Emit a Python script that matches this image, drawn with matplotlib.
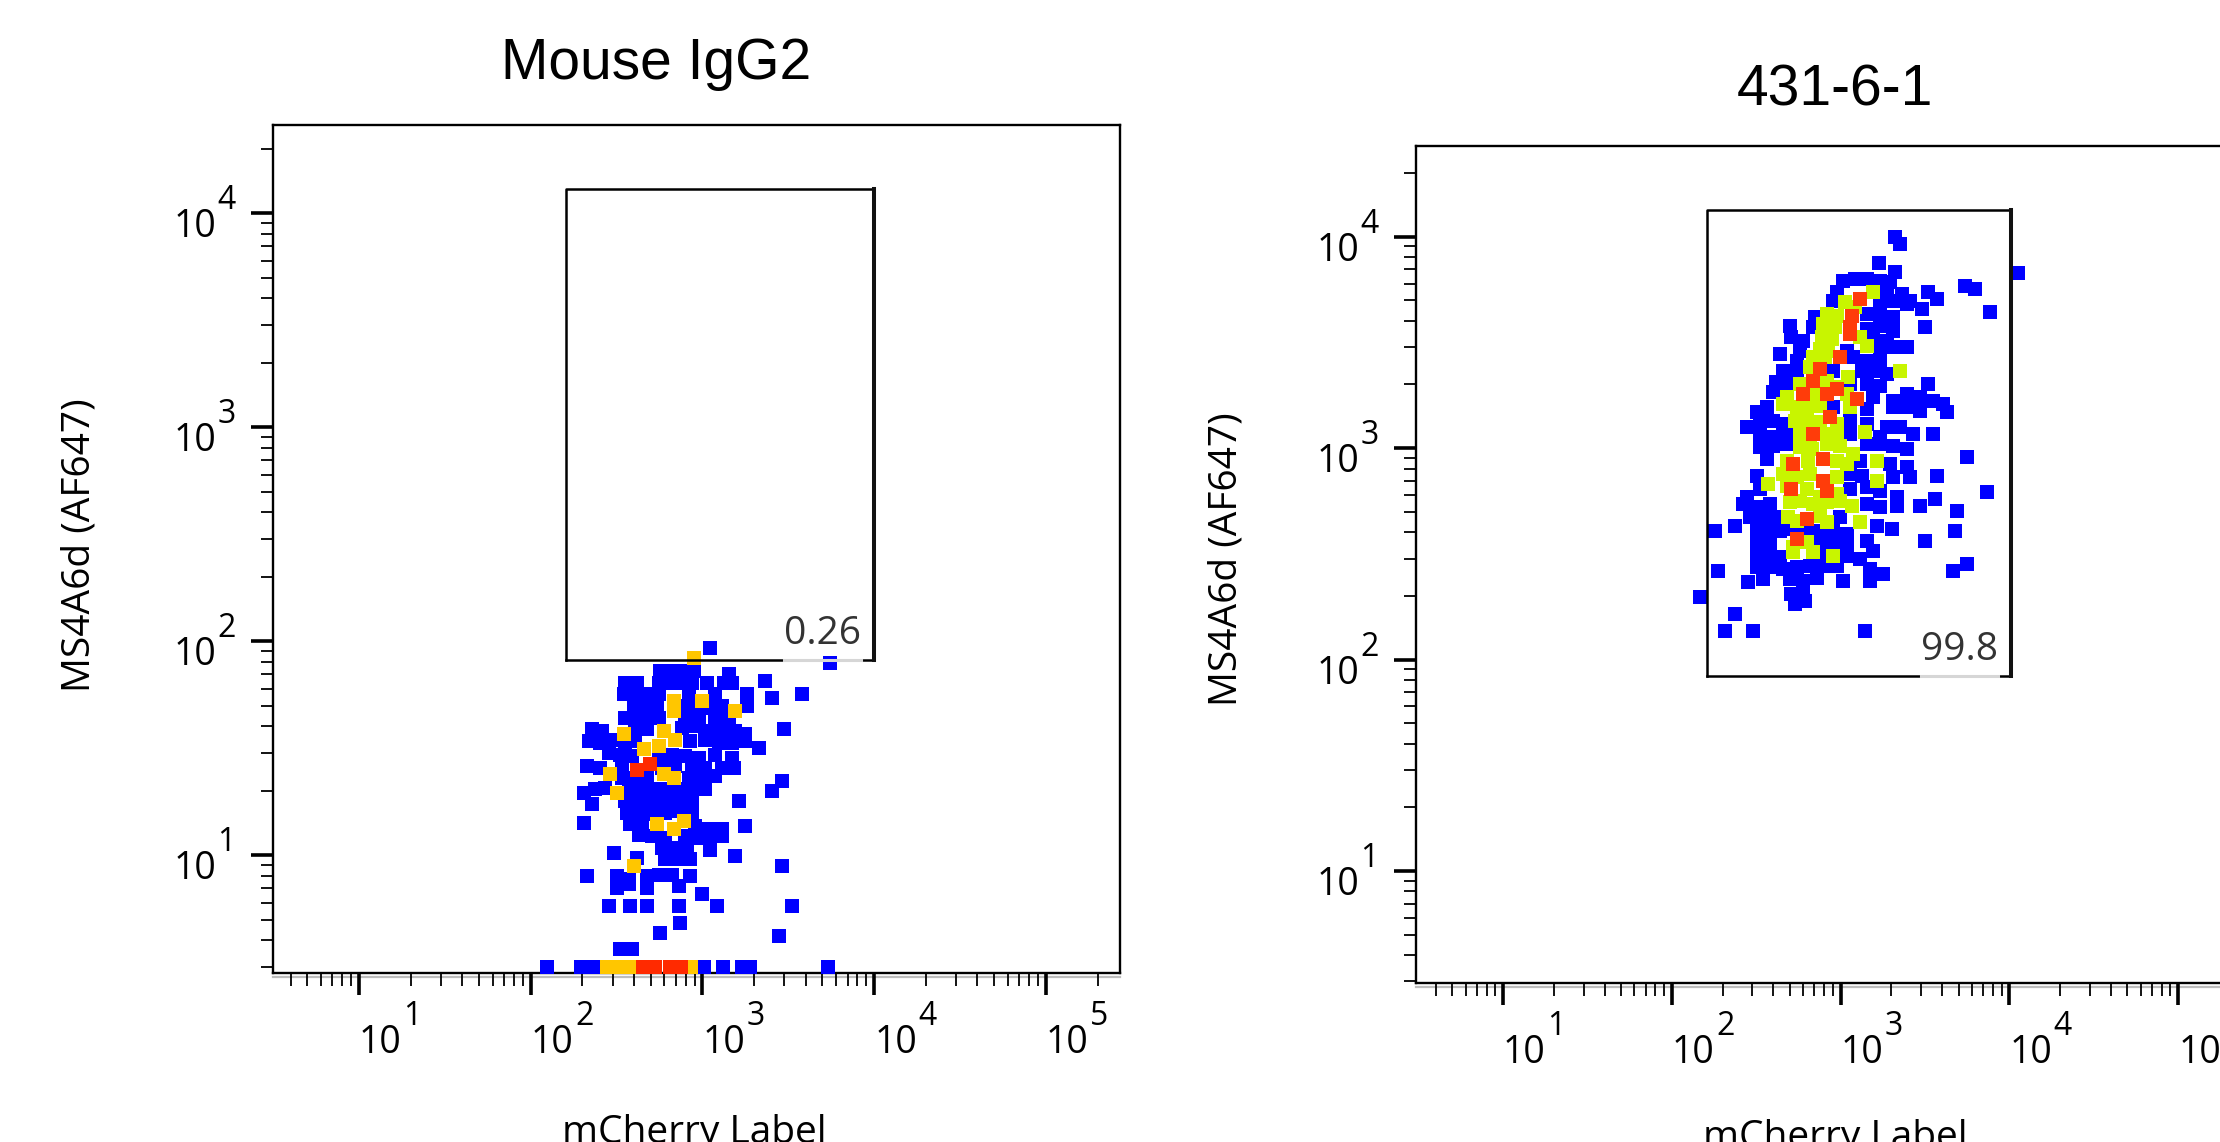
import numpy as np
import matplotlib
matplotlib.use("Agg")
import matplotlib.pyplot as plt
from matplotlib.ticker import LogLocator, NullFormatter
from matplotlib.transforms import blended_transform_factory
from matplotlib.lines import Line2D

plt.rcParams['font.family'] = ['Open Sans', 'DejaVu Sans']

# ---------------- data ----------------
titles = ["Mouse IgG2", "431-6-1"]
x_label = "mCherry Label"
y_label = "MS4A6d (AF647)"
gate_pcts = ["0.26", "99.8"]
x_tick_exps = [1, 2, 3, 4, 5]
y_tick_exps = [1, 2, 3, 4]

# gate bounds (log10 units)
igg_gate_x = [2.208, 4.0]
igg_gate_y = [1.914, 4.115]
ab_gate_x = [2.21, 4.01]
ab_gate_y = [1.92, 4.127]

# ---- Mouse IgG2 events (log10 mCherry, log10 MS4A6d) by density level ----
igg_blue_x = [3.046, 3.745, 3.366, 3.405, 3.580,
              2.755, 2.823, 2.891, 2.949, 3.153,
              2.551, 2.619, 2.745, 2.813, 2.881, 2.939, 3.027, 3.124, 3.172,
              2.541, 2.609, 2.687, 2.745, 2.920, 3.075, 3.260,
              2.600, 2.668, 2.736, 2.901, 2.959, 3.036, 3.114, 3.260,
              2.551, 2.619, 2.687, 2.745, 2.901, 2.978, 3.075, 3.153,
              2.357, 2.415, 2.609, 2.677, 2.881, 2.959, 3.036, 3.114, 3.192, 3.250, 3.473,
              2.338, 2.406, 2.474, 2.551, 2.609, 2.930, 3.017, 3.095, 3.172, 3.250, 3.328,
              2.454, 2.522, 2.590, 2.745, 2.823, 2.901, 2.978, 3.075, 3.172,
              2.328, 2.406, 2.532, 2.765, 2.842, 2.939, 3.017, 3.114, 3.182,
              2.532, 2.609, 2.677, 2.920, 2.998, 3.075, 3.463,
              2.309, 2.377, 2.435, 2.571, 2.639, 2.706, 2.784, 2.862, 2.939, 3.017, 3.405,
              2.357, 2.551, 2.629, 2.706, 2.784, 2.862, 2.939, 3.211,
              2.561, 2.639, 2.706, 2.784, 2.862, 2.939,
              2.309, 2.580, 2.648, 2.959, 3.036, 3.114, 3.250,
              2.629, 2.706, 2.784, 2.901, 2.959, 3.036, 3.114,
              2.483, 2.765, 2.833, 2.910, 3.046, 3.192,
              2.619, 2.784, 2.862, 2.930, 3.463,
              2.328, 2.503, 2.571, 2.677, 2.745, 2.823, 2.930,
              2.503, 2.571, 2.677, 2.862, 2.998,
              2.454, 2.580, 2.677, 2.862, 3.085, 3.522,
              2.871, 2.755, 3.444,
              2.522, 2.590,
              2.097, 2.291, 2.373, 3.008, 3.118, 3.229, 3.275, 3.730]
igg_blue_y = [1.969, 1.899, 1.813, 1.735, 1.751,
              1.860, 1.860, 1.860, 1.860, 1.845,
              1.805, 1.805, 1.805, 1.805, 1.805, 1.805, 1.805, 1.805, 1.805,
              1.751, 1.751, 1.751, 1.751, 1.751, 1.751, 1.751,
              1.696, 1.696, 1.696, 1.696, 1.688, 1.688, 1.696, 1.696,
              1.642, 1.642, 1.642, 1.642, 1.642, 1.642, 1.642, 1.642,
              1.587, 1.579, 1.595, 1.587, 1.595, 1.603, 1.579, 1.579, 1.579, 1.564, 1.587,
              1.533, 1.525, 1.540, 1.517, 1.533, 1.533, 1.540, 1.525, 1.525, 1.533, 1.501,
              1.478, 1.470, 1.462, 1.462, 1.470, 1.462, 1.455, 1.470, 1.455,
              1.416, 1.408, 1.424, 1.408, 1.416, 1.408, 1.408, 1.408, 1.408,
              1.361, 1.361, 1.361, 1.361, 1.361, 1.369, 1.346,
              1.291, 1.307, 1.314, 1.314, 1.307, 1.307, 1.307, 1.307, 1.307, 1.307, 1.299,
              1.237, 1.252, 1.252, 1.244, 1.244, 1.252, 1.252, 1.252,
              1.198, 1.198, 1.190, 1.198, 1.205, 1.198,
              1.151, 1.143, 1.135, 1.135, 1.120, 1.120, 1.135,
              1.096, 1.089, 1.081, 1.089, 1.081, 1.081, 1.089,
              1.011, 1.034, 1.034, 1.034, 1.026, 0.995,
              0.987, 0.980, 0.980, 0.980, 0.948,
              0.902, 0.902, 0.886, 0.902, 0.909, 0.909, 0.902,
              0.847, 0.863, 0.847, 0.855, 0.816,
              0.761, 0.761, 0.761, 0.761, 0.761, 0.761,
              0.684, 0.637, 0.621,
              0.559, 0.559,
              0.479, 0.479, 0.479, 0.479, 0.479, 0.479, 0.479, 0.479]
igg_mid_x = [2.949, 2.833, 2.833, 2.998, 3.192, 2.541, 2.774, 2.658, 2.745, 2.842,
             2.464, 2.774, 2.833, 2.503, 2.736, 2.833, 2.891, 2.600,
             2.443, 2.513, 2.582, 2.932]
igg_mid_y = [1.922, 1.720, 1.673, 1.720, 1.673, 1.564, 1.579, 1.494, 1.509, 1.540,
             1.377, 1.377, 1.361, 1.291, 1.143, 1.120, 1.159, 0.948,
             0.479, 0.479, 0.479, 0.479]
igg_high_x = [2.619, 2.697, 2.652, 2.722, 2.810, 2.874]
igg_high_y = [1.400, 1.424, 0.479, 0.479, 0.479, 0.479]

# ---- 431-6-1 events ----
ab_blue_x = [3.322, 3.352, 3.229, 3.322, 4.053, 3.016, 3.085, 3.154, 3.233, 3.292,
             3.737, 3.796, 3.519, 3.569, 2.976, 3.273, 3.361, 3.411, 3.885, 2.956,
             3.233, 3.312, 3.391, 3.480, 2.848, 3.154, 3.233, 3.312, 3.500, 2.699,
             2.838, 3.154, 3.233, 3.312, 2.709, 2.779, 3.194, 3.273, 3.332, 2.640,
             2.759, 3.035, 3.233, 3.312, 3.391, 2.739, 3.075, 3.154, 3.233, 2.660,
             2.739, 2.956, 3.124, 3.194, 3.273, 3.519, 2.620, 2.699, 3.055, 3.154,
             3.233, 2.601, 2.680, 3.194, 3.312, 3.391, 3.470, 3.549, 2.502, 2.561,
             2.956, 3.154, 3.312, 3.391, 3.470, 3.608, 3.628, 2.443, 2.522, 2.601,
             2.660, 3.055, 3.154, 3.273, 3.352, 3.431, 3.549, 2.522, 2.601, 2.680,
             3.055, 3.233,
             2.522, 2.601, 2.680, 3.154, 3.233, 3.312, 3.391, 3.747, 2.561, 3.114,
             3.292, 3.391, 2.502, 3.055, 3.124, 3.312, 3.411, 3.569, 2.443, 2.522,
             3.055, 3.154, 3.233, 3.332, 3.470, 3.559, 3.865, 2.423, 2.502, 2.581,
             3.154, 3.233, 3.332, 3.687, 2.373, 2.462, 2.541, 2.620, 2.996, 3.213,
             3.302, 2.255, 2.502, 2.581, 2.640, 2.719, 2.798, 2.877, 2.956, 3.035,
             3.154, 3.500, 3.678, 2.502, 2.581, 2.877, 2.956, 3.035, 2.502, 2.581,
             2.640, 2.877, 3.035, 3.114, 3.194, 2.275, 2.502, 2.581, 2.660, 2.739,
             2.818, 2.897, 2.976, 3.174, 3.253, 3.668, 3.747, 2.453, 2.541, 2.699,
             2.779, 2.858, 3.016, 3.174, 2.166, 2.709, 2.779, 2.729, 2.788, 2.373,
             2.314, 2.482, 3.144]
ab_blue_y = [4.000, 3.965, 3.874, 3.831, 3.827, 3.792, 3.800, 3.800, 3.792, 3.784,
             3.768, 3.752, 3.737, 3.705, 3.737, 3.744, 3.729, 3.697, 3.642, 3.697,
             3.697, 3.697, 3.681, 3.658, 3.618, 3.634, 3.634, 3.618, 3.571, 3.579,
             3.571, 3.563, 3.579, 3.555, 3.524, 3.508, 3.524, 3.508, 3.476, 3.445,
             3.461, 3.461, 3.461, 3.476, 3.476, 3.413, 3.429, 3.413, 3.413, 3.366,
             3.358, 3.366, 3.366, 3.366, 3.350, 3.303, 3.311, 3.303, 3.303, 3.303,
             3.295, 3.264, 3.256, 3.240, 3.224, 3.256, 3.240, 3.224, 3.169, 3.193,
             3.193, 3.185, 3.193, 3.193, 3.177, 3.208, 3.169, 3.098, 3.129, 3.129,
             3.114, 3.129, 3.114, 3.098, 3.098, 3.066, 3.066, 3.066, 3.051, 3.066,
             3.066, 3.051,
             3.003, 3.011, 3.019, 3.019, 3.019, 3.011, 2.996, 2.956, 2.948, 2.940,
             2.925, 2.909, 2.869, 2.877, 2.869, 2.862, 2.862, 2.869, 2.767, 2.806,
             2.806, 2.814, 2.798, 2.767, 2.728, 2.759, 2.791, 2.735, 2.720, 2.735,
             2.735, 2.720, 2.728, 2.704, 2.633, 2.672, 2.672, 2.672, 2.672, 2.633,
             2.617, 2.609, 2.609, 2.609, 2.609, 2.617, 2.609, 2.609, 2.609, 2.593,
             2.562, 2.562, 2.609, 2.546, 2.546, 2.546, 2.546, 2.538, 2.491, 2.483,
             2.483, 2.483, 2.491, 2.475, 2.515, 2.420, 2.436, 2.436, 2.428, 2.436,
             2.444, 2.444, 2.444, 2.428, 2.404, 2.420, 2.452, 2.365, 2.381, 2.381,
             2.373, 2.388, 2.373, 2.373, 2.294, 2.310, 2.317, 2.262, 2.278, 2.215,
             2.136, 2.136, 2.136]
ab_mid_x = [3.190, 3.025, 3.085, 2.917, 2.976, 2.897, 2.966, 2.887, 2.947, 3.114,
            2.877, 2.927, 3.154, 2.838, 2.907, 3.352, 2.818, 3.045, 2.759, 2.917,
            2.976, 2.680, 2.838, 3.035, 2.660, 2.739, 2.798, 2.877, 3.055, 2.729,
            2.798, 2.877, 2.976, 2.759, 2.818, 2.897, 2.976, 3.144,
            2.759, 2.828, 2.917, 2.996, 3.075, 2.680, 2.808, 2.976, 3.035, 3.213,
            2.571, 2.660, 2.739, 2.818, 2.976, 3.213, 2.680, 2.798, 2.877, 2.976,
            2.699, 2.759, 2.838, 2.917, 2.996, 3.065, 2.690, 2.739, 2.877, 2.917,
            3.114, 2.719, 2.798, 2.719, 2.838, 2.956]
ab_mid_y = [3.737, 3.689, 3.666, 3.634, 3.626, 3.587, 3.571, 3.524, 3.516, 3.524,
            3.469, 3.461, 3.484, 3.429, 3.429, 3.366, 3.382, 3.335, 3.303, 3.319,
            3.287, 3.240, 3.256, 3.256, 3.208, 3.193, 3.193, 3.200, 3.193, 3.129,
            3.129, 3.122, 3.114, 3.066, 3.051, 3.066, 3.051, 3.074,
            3.003, 2.996, 3.019, 3.011, 2.972, 2.940, 2.940, 2.940, 2.925, 2.940,
            2.830, 2.877, 2.862, 2.877, 2.862, 2.846, 2.822, 2.806, 2.767, 2.783,
            2.743, 2.751, 2.735, 2.743, 2.751, 2.728, 2.672, 2.657, 2.680, 2.649,
            2.649, 2.530, 2.554, 2.507, 2.507, 2.491]
ab_high_x = [3.114, 3.065, 3.055, 3.055, 2.996, 2.877, 2.838, 2.779, 2.917, 2.976,
             3.095, 2.937, 2.838,
             2.719, 2.897, 2.897, 2.709, 2.917, 2.798, 2.739]
ab_high_y = [3.705, 3.626, 3.571, 3.540, 3.429, 3.374, 3.319, 3.256, 3.256, 3.279,
             3.232, 3.145, 3.066,
             2.925, 2.948, 2.846, 2.806, 2.798, 2.664, 2.570]

# ---------------- figure ----------------
W, H = 2220, 1142
PT = 0.72  # points per pixel at dpi 100
fig = plt.figure(figsize=(W / 100, H / 100), dpi=100)


def px_axes(left, top, right, bottom):
    return [left / W, 1 - bottom / H, (right - left) / W, (bottom - top) / H]


ax1 = fig.add_axes(px_axes(273, 125, 1120, 973))
ax2 = fig.add_axes(px_axes(1416, 146, 2249, 983))

BLUE = '#0000ff'
RED = '#ff2a00'
MSIZE = (13.6 * PT) ** 2

panels = [
    (ax1, (10 ** 0.499, 10 ** 5.432), (10 ** 0.449, 10 ** 4.412),
     [(igg_blue_x, igg_blue_y, BLUE), (igg_mid_x, igg_mid_y, '#ffc600'),
      (igg_high_x, igg_high_y, RED)],
     igg_gate_x, igg_gate_y, gate_pcts[0]),
    (ax2, (10 ** 0.484, 10 ** 5.42), (10 ** 0.47, 10 ** 4.429),
     [(ab_blue_x, ab_blue_y, BLUE), (ab_mid_x, ab_mid_y, '#c8f500'),
      (ab_high_x, ab_high_y, '#ff3c0a')],
     ab_gate_x, ab_gate_y, gate_pcts[1]),
]

TICK_FS = 27
EXP_FS = 23

gate_texts = []
base_texts = []
for ax, xl, yl, layers, gx, gy, pct in panels:
    ax.set_xscale('log')
    ax.set_yscale('log')
    ax.set_xlim(*xl)
    ax.set_ylim(*yl)
    for xs, ys, col in layers:
        ax.scatter(10 ** np.asarray(xs), 10 ** np.asarray(ys), s=MSIZE, marker='s',
                   c=col, linewidths=0, zorder=3)
    # gate
    x0, x1 = 10 ** gx[0], 10 ** gx[1]
    y0, y1 = 10 ** gy[0], 10 ** gy[1]
    ax.plot([x0, x0, x1], [y0, y1, y1], color='black', lw=1.8, zorder=4,
            solid_capstyle='projecting')
    ax.plot([x0, x1], [y0, y0], color='black', lw=1.8, zorder=4)
    ax.plot([x1, x1], [y0, y1], color='#111111', lw=2.9, zorder=4,
            solid_capstyle='projecting')
    t = ax.annotate(pct, xy=(x1, y0), xytext=(-9.5, 11.5), textcoords='offset points',
                    ha='right', va='baseline', fontsize=28, color='#333333', zorder=6)
    gate_texts.append((ax, t, y0))

    for sp in ax.spines.values():
        sp.set_linewidth(1.7)
    # soft grey shadow just under the x axis line
    ax.add_line(Line2D([0, 1], [0, 0], transform=ax.transAxes + 
                       matplotlib.transforms.ScaledTranslation(0, -3.5 / 100, fig.dpi_scale_trans),
                       color='#bdbdbd', lw=1.6, zorder=1, clip_on=False))
    ax.set_xticks([10.0 ** e for e in x_tick_exps])
    ax.set_yticks([10.0 ** e for e in y_tick_exps])
    ax.set_xticklabels([])
    ax.set_yticklabels([])
    ax.xaxis.set_minor_locator(LogLocator(base=10, subs=np.arange(2, 10), numticks=30))
    ax.yaxis.set_minor_locator(LogLocator(base=10, subs=np.arange(2, 10), numticks=30))
    ax.xaxis.set_minor_formatter(NullFormatter())
    ax.yaxis.set_minor_formatter(NullFormatter())
    ax.tick_params(axis='both', which='major', direction='out', length=16,
                   width=2.6, colors='black')
    ax.tick_params(axis='both', which='minor', direction='out', length=9, width=1.3)

    # tick labels: "10" followed by a large superscript exponent
    tx = blended_transform_factory(ax.transData, ax.transAxes)
    for e in x_tick_exps:
        b = ax.annotate('10', xy=(10.0 ** e, 0), xycoords=tx,
                        xytext=(0, -80 * PT), textcoords='offset points',
                        ha='left', va='baseline', fontsize=TICK_FS, annotation_clip=False)
        base_texts.append((ax, b, e))
    ty = blended_transform_factory(ax.transAxes, ax.transData)
    for e in y_tick_exps:
        b = ax.annotate('10', xy=(0, 10.0 ** e), xycoords=ty,
                        xytext=(-57 * PT, -24 * PT), textcoords='offset points',
                        ha='right', va='baseline', fontsize=TICK_FS, annotation_clip=False)
        base_texts.append((ax, b, e))

for ax, b, e in base_texts:
    ax.annotate(str(e), xy=(1, 1), xycoords=b, xytext=(1.5 * PT, -1 * PT),
                textcoords='offset points', ha='left', va='baseline',
                fontsize=EXP_FS, annotation_clip=False)

# titles and labels
fig.text(656 / W, 1 - 79 / H, titles[0], fontsize=41, family='Liberation Sans',
         ha='center', va='baseline')
fig.text(1835 / W, 1 - 106 / H, titles[1], fontsize=41, family='Liberation Sans',
         ha='center', va='baseline')
fig.text(80 / W, 1 - 545 / H, y_label, fontsize=28, rotation=90, ha='center', va='center')
fig.text(1226 / W, 1 - 559 / H, y_label, fontsize=28, rotation=90, ha='center', va='center')
fig.text(694 / W, 1 - 1114 / H, x_label, fontsize=28, ha='center', va='top')
fig.text(1835 / W, 1 - 1119 / H, x_label, fontsize=28, ha='center', va='top')

# light grey segment of the gate edge under the frequency label
fig.canvas.draw()
r = fig.canvas.get_renderer()
for ax, t, y0 in gate_texts:
    bb = t.get_window_extent(r)
    inv = ax.transData.inverted()
    xa = inv.transform((bb.x0, 0))[0]
    xb = inv.transform((bb.x1, 0))[0]
    ax.plot([xa, xb], [y0, y0], color='#d6d6d6', lw=2.2, zorder=5)

fig.savefig('out.png', dpi=100)
